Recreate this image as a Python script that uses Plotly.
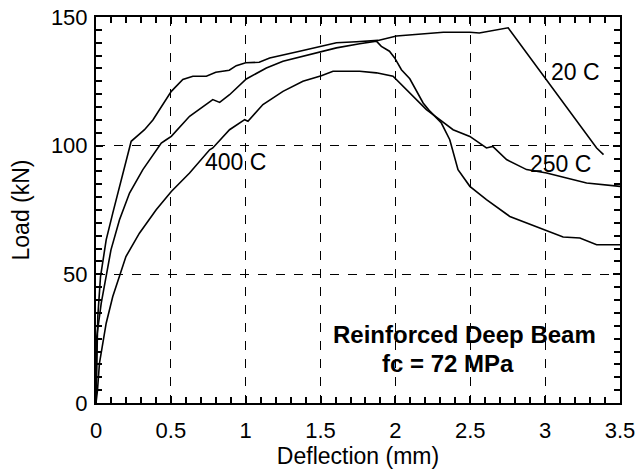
import plotly.graph_objects as go

# load-deflection curves
defl_20c = [0, 0.005, 0.012, 0.03, 0.068, 0.112, 0.157, 0.19, 0.22, 0.235, 0.29, 0.324, 0.38, 0.424,
            0.503, 0.58, 0.647, 0.737, 0.80, 0.89, 0.937, 1.0, 1.09, 1.16, 1.25, 1.36, 1.505, 1.606,
            1.74, 1.884, 2.007, 2.16, 2.32, 2.497, 2.56, 2.753, 3.344, 3.39]
load_20c = [0, 15.6, 33.6, 49, 63.4, 73.8, 84.2, 90.7, 98.4, 101.7, 104.5, 106.2, 110, 114,
            121.1, 125.7, 127, 127, 128.5, 129.3, 131.1, 132.2, 132.4, 134.1, 135.4, 136.7, 138.6, 140,
            140.4, 140.9, 142.6, 143.4, 144.1, 144.1, 143.8, 145.8, 99.1, 96.5]

defl_250c = [0, 0.005, 0.035, 0.068, 0.1, 0.157, 0.224, 0.313, 0.402, 0.436, 0.469, 0.503, 0.625,
             0.714, 0.78, 0.826, 0.892, 1.004, 1.093, 1.138, 1.249, 1.382, 1.505, 1.606, 1.761,
             1.873, 1.906, 1.96, 1.995, 2.04, 2.096, 2.14, 2.185, 2.23, 2.307, 2.363, 2.385, 2.418,
             2.497, 2.608, 2.764, 2.987, 3.12, 3.232, 3.344, 3.5]
load_250c = [0, 25.8, 38.8, 49.1, 59.5, 71.2, 81.6, 90.7, 98.4, 101, 102.3, 103.6, 111.4,
             115.3, 117.9, 116.8, 119.8, 125.9, 128.9, 130.2, 132.8, 134.7, 136.7, 138, 139.6,
             140.6, 138.6, 136.7, 134.1, 129.5, 126, 121.5, 116.6, 113.4, 108.8, 102.3, 97.2, 90.7,
             84.2, 79, 72.5, 67.3, 64.5, 64.1, 61.5, 61.5]

defl_400c = [0, 0.01, 0.023, 0.068, 0.112, 0.157, 0.2, 0.29, 0.402, 0.503, 0.625, 0.759, 0.78,
             0.892, 0.993, 1.015, 1.093, 1.115, 1.249, 1.382, 1.505, 1.583, 1.761, 1.873, 1.984,
             2.04, 2.118, 2.207, 2.296, 2.385, 2.497, 2.608, 2.65, 2.742, 2.876, 3.01, 3.143,
             3.277, 3.5]
load_400c = [0, 5, 15.4, 31, 41.4, 49.1, 56.9, 66, 75.1, 82.2, 89.4, 98.4, 99.1,
             106.2, 110.1, 109.5, 114.7, 116, 121.1, 125, 127.2, 128.9, 128.9, 128.3, 127,
             123.7, 119.2, 114, 110.1, 106.2, 103.6, 99.1, 99.7, 94.6, 90.7, 89.4, 87.4,
             85.5, 84.2]

curve_labels = ["20 C", "250 C", "400 C"]
label_x = [3.2, 3.1, 0.93]
label_y = [128.5, 93, 93.5]

x_ticks = [0, 0.5, 1, 1.5, 2, 2.5, 3, 3.5]
x_ticktext = ["0", "0.5", "1", "1.5", "2", "2.5", "3", "3.5"]

FONT = "Liberation Sans, Arial, sans-serif"

fig = go.Figure()
for xs, ys in [(defl_20c, load_20c), (defl_250c, load_250c), (defl_400c, load_400c)]:
    fig.add_trace(go.Scatter(x=xs, y=ys, mode="lines",
                             line=dict(color="black", width=1.6)))

for txt, lx, ly in zip(curve_labels, label_x, label_y):
    fig.add_annotation(x=lx, y=ly, text=txt, showarrow=False,
                       font=dict(family=FONT, size=23, color="black"))

fig.add_annotation(x=2.46, y=26.8, text="<b>Reinforced Deep Beam</b>", showarrow=False,
                   font=dict(family=FONT, size=24, color="black"))
fig.add_annotation(x=2.35, y=15.2, text="<b>fc = 72 MPa</b>", showarrow=False,
                   font=dict(family=FONT, size=24, color="black"))

axis_common = dict(
    showline=True, linecolor="black", linewidth=2, mirror="allticks",
    ticks="inside", ticklen=7, tickcolor="black", tickwidth=1.5,
    showgrid=True, gridcolor="black", gridwidth=1, griddash="dash",
    zeroline=False, automargin=False,
    tickfont=dict(family=FONT, size=22, color="black"),
)

fig.update_xaxes(range=[0, 3.5], tickmode="array", tickvals=x_ticks, ticktext=x_ticktext,
                 ticklabelstandoff=7,
                 minor=dict(tickmode="linear", tick0=0, dtick=0.1, ticks="inside", ticklen=6,
                            tickwidth=1.5, tickcolor="black", showgrid=False),
                 title=dict(text="Deflection (mm)", font=dict(family=FONT, size=23, color="black"),
                            standoff=4),
                 **axis_common)
fig.update_yaxes(range=[0, 150], tick0=0, dtick=50, ticklabelstandoff=2,
                 minor=dict(tick0=0, dtick=5, ticks="inside", ticklen=6, tickwidth=1.5,
                            tickcolor="black", showgrid=False),
                 title=dict(text="Load (kN)", font=dict(family=FONT, size=23, color="black"),
                            standoff=15),
                 **axis_common)

fig.update_layout(
    width=639, height=475,
    margin=dict(l=96, r=19, t=17, b=72),
    paper_bgcolor="white", plot_bgcolor="white",
    showlegend=False,
)

# drop the default 8px body margin so the figure sits at the page corner
fig.write_html("out.html", config={"displayModeBar": False},
               post_script="document.body.style.margin='0';")
